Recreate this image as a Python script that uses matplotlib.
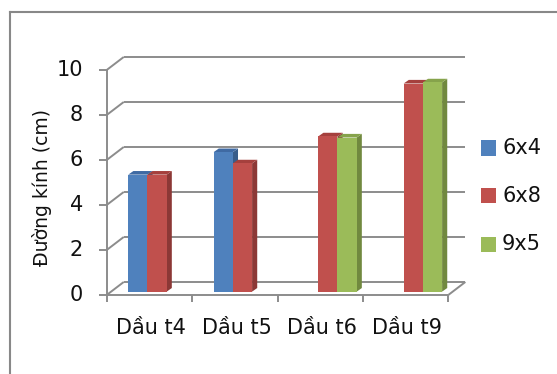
import numpy as np
import matplotlib.pyplot as plt
from matplotlib.patches import Polygon, Rectangle
from matplotlib.lines import Line2D

# ---------------- data ----------------
categories = ["Dầu t4", "Dầu t5", "Dầu t6", "Dầu t9"]
series_names = ["6x4", "6x8", "9x5"]
vals_6x4 = [5.2, 6.2, np.nan, np.nan]
vals_6x8 = [5.2, 5.7, 6.9, 9.25]
vals_9x5 = [np.nan, np.nan, 6.85, 9.3]
yticks = [0, 2, 4, 6, 8, 10]
ylabel = "Đường kính (cm)"

# front / side / top shades for each series
face_colors = ["#4F81BD", "#C0504D", "#9BBB59"]
side_colors = ["#385D8A", "#8C3836", "#71893F"]
top_colors = ["#3F6AA3", "#A5403D", "#86A34B"]

GRID = "#8C8C8C"
W, H = 557, 374

# ---------------- 3D-ish geometry (data units) ----------------
WALL_DX, WALL_DY = 0.2, 0.58     # depth of back wall
BAR_DX, BAR_DY = 0.06, 0.16      # depth of each column
BAR_BASE = 0.15                  # columns stand a little behind the front edge
BAR_W = 0.225
SLOT0 = 0.59                     # centre of the middle slot inside a category

fig = plt.figure(figsize=(W / 100, H / 100), dpi=100)
ax = fig.add_axes([106.7 / W, 79 / H, 341.6 / W, 225 / H])
ax.set_xlim(0, len(categories))
ax.set_ylim(0, 10)
ax.axis("off")

line_kw = dict(color=GRID, lw=1.4, clip_on=False, solid_capstyle="butt")

# back wall gridlines + left wall diagonals + value ticks
for v in yticks:
    ax.plot([WALL_DX, len(categories) + WALL_DX], [v + WALL_DY] * 2, zorder=1, **line_kw)
    ax.plot([0, WALL_DX], [v, v + WALL_DY], zorder=1, **line_kw)
    ax.plot([-8 / 85, 0], [v, v], zorder=1, **line_kw)
    ax.text(-0.28, v, str(v), ha="right", va="center", fontsize=15, color="#111111")

# front value axis and floor
ax.plot([0, 0], [0, 10], zorder=1, **line_kw)
ax.plot([0, len(categories)], [0, 0], zorder=5, **line_kw)
ax.plot([len(categories), len(categories) + WALL_DX], [0, WALL_DY], zorder=5, **line_kw)
for i in range(len(categories) + 1):
    ax.plot([i, i], [0, -7 / 22.5], zorder=5, **line_kw)

# columns, drawn left to right so nearer faces cover the sides
all_vals = [vals_6x4, vals_6x8, vals_9x5]
for i, cat in enumerate(categories):
    for k, vals in enumerate(all_vals):
        v = vals[i]
        if np.isnan(v):
            continue
        xc = i + SLOT0 + (k - 1) * BAR_W
        x0, x1 = xc - BAR_W / 2, xc + BAR_W / 2
        y0, y1 = BAR_BASE, BAR_BASE + v
        side = Polygon([(x1, y0), (x1 + BAR_DX, y0 + BAR_DY),
                        (x1 + BAR_DX, y1 + BAR_DY), (x1, y1)],
                       closed=True, fc=side_colors[k], ec="none", zorder=3)
        top = Polygon([(x0, y1), (x0 + BAR_DX, y1 + BAR_DY),
                       (x1 + BAR_DX, y1 + BAR_DY), (x1, y1)],
                      closed=True, fc=top_colors[k], ec="none", zorder=3)
        ax.add_patch(side)
        ax.add_patch(top)
        ax.bar(xc, v, width=BAR_W, bottom=BAR_BASE, color=face_colors[k],
               zorder=4, linewidth=0)
    ax.text(i + 0.52, -1.47, cat, ha="center", va="center", fontsize=15, color="#111111")

ax.text(-0.76, 4.78, ylabel, rotation=90, ha="center", va="center",
        fontsize=13.5, color="#111111")

# legend
for k, name in enumerate(series_names):
    yc = 148 + k * 48
    fig.patches.append(Rectangle((481 / W, 1 - (yc + 7.5) / H), 15 / W, 15 / H,
                                 transform=fig.transFigure, fc=face_colors[k], ec="none"))
    fig.text(502 / W, 1 - yc / H, name, ha="left", va="center", fontsize=15, color="#111111")

# chart area border
fig.add_artist(Line2D([10 / W, 1], [1 - 12 / H] * 2, transform=fig.transFigure,
                      color="#888888", lw=1.5))
fig.add_artist(Line2D([10 / W, 10 / W], [0, 1 - 12 / H], transform=fig.transFigure,
                      color="#888888", lw=1.5))

fig.savefig("out.png", dpi=100)
